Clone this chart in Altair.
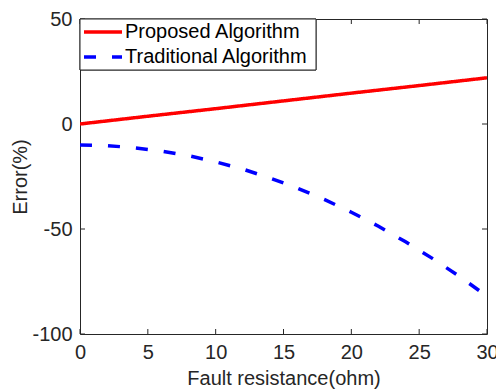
import altair as alt
import pandas as pd

# Data
x_prop = [0, 5, 10, 15, 20, 25, 30]
y_prop = [0, 3.7, 7.3, 11.0, 14.7, 18.3, 22.0]

x_trad = [0, 2, 4, 6, 8, 10, 12, 14, 16, 18, 20, 22, 24, 26, 28, 30]
y_trad = [-10, -10.3, -11.3, -12.9, -15.1, -18, -21.5, -25.7, -30.5, -35.9, -42, -48.7, -56.1, -64.1, -72.7, -82]

series = ["Proposed Algorithm", "Traditional Algorithm"]
x_ticks = [0, 5, 10, 15, 20, 25, 30]
y_ticks = [-100, -50, 0, 50]

W, H = 407, 315
AX = "#262626"
FONT = "Liberation Sans"

df = pd.concat([
    pd.DataFrame({"x": x_prop, "y": y_prop, "s": series[0]}),
    pd.DataFrame({"x": x_trad, "y": y_trad, "s": series[1]}),
])

xs = alt.Scale(domain=[0, 30], nice=False, zero=False)
ys = alt.Scale(domain=[-100, 50], nice=False, zero=False)
cs = alt.Scale(domain=series, range=["#FF0000", "#0000FF"])
ds = alt.Scale(domain=series, range=[[1, 0], [12, 16]])

lines = alt.Chart(df).mark_line(strokeWidth=3.5, clip=True).encode(
    x=alt.X("x:Q", scale=xs, axis=alt.Axis(
        title="Fault resistance(ohm)", values=x_ticks, grid=False, tickSize=0,
        domain=False, labelPadding=8, titlePadding=6, labelFlush=False,
        labelExpr="'' + datum.value")),
    y=alt.Y("y:Q", scale=ys, axis=alt.Axis(
        title="Error(%)", values=y_ticks, grid=False, tickSize=0,
        domain=False, labelPadding=8, titlePadding=1, labelFlush=False,
        labelExpr="'' + datum.value")),
    color=alt.Color("s:N", scale=cs, legend=None),
    strokeDash=alt.StrokeDash("s:N", scale=ds, legend=None),
)

xt = pd.DataFrame({"t": x_ticks})
yt = pd.DataFrame({"t": y_ticks})

xb = alt.Chart(xt).mark_rule(color=AX, strokeWidth=1).encode(
    x=alt.X("t:Q", scale=xs), y=alt.value(H), y2=alt.value(H - 5))
xtop = alt.Chart(xt).mark_rule(color=AX, strokeWidth=1).encode(
    x=alt.X("t:Q", scale=xs), y=alt.value(0), y2=alt.value(5))
yl = alt.Chart(yt).mark_rule(color=AX, strokeWidth=1).encode(
    y=alt.Y("t:Q", scale=ys, axis=None), x=alt.value(0), x2=alt.value(5))
yr = alt.Chart(yt).mark_rule(color=AX, strokeWidth=1).encode(
    y=alt.Y("t:Q", scale=ys, axis=None), x=alt.value(W), x2=alt.value(W - 5))

# Legend (drawn as marks from the series names)
leg_df = pd.DataFrame({"s": series})
ly = alt.Y("s:N", scale=alt.Scale(domain=series, type="point", range=[13, 38], padding=0), axis=None)
leg_box = alt.Chart(leg_df).mark_rect(fill="white", stroke=AX, strokeWidth=1).encode(
    x=alt.value(0), x2=alt.value(236), y=alt.value(0), y2=alt.value(51))
leg_line = alt.Chart(leg_df).mark_rule(strokeWidth=3.5).encode(
    x=alt.value(4), x2=alt.value(42), y=ly,
    color=alt.Color("s:N", scale=cs, legend=None),
    strokeDash=alt.StrokeDash("s:N", scale=ds, legend=None))
leg_text = alt.Chart(leg_df).mark_text(align="left", baseline="middle", font=FONT,
                                       fontSize=20, color="#000000").encode(
    x=alt.value(45), y=ly, text="s:N")

chart = alt.layer(xb, xtop, yl, yr, lines, leg_box, leg_line, leg_text).resolve_scale(
    y="independent"
).properties(
    width=W, height=H, background="white",
    autosize=alt.AutoSizeParams(type="none"),
    padding={"left": 80, "top": 19, "right": 9, "bottom": 58},
).configure_view(stroke=AX, strokeWidth=1).configure_axis(
    labelFont=FONT, titleFont=FONT, labelFontSize=20, titleFontSize=20,
    labelColor=AX, titleColor=AX, titleFontWeight="normal",
)

chart.save("out.html", embed_options={"renderer": "svg", "actions": False})
